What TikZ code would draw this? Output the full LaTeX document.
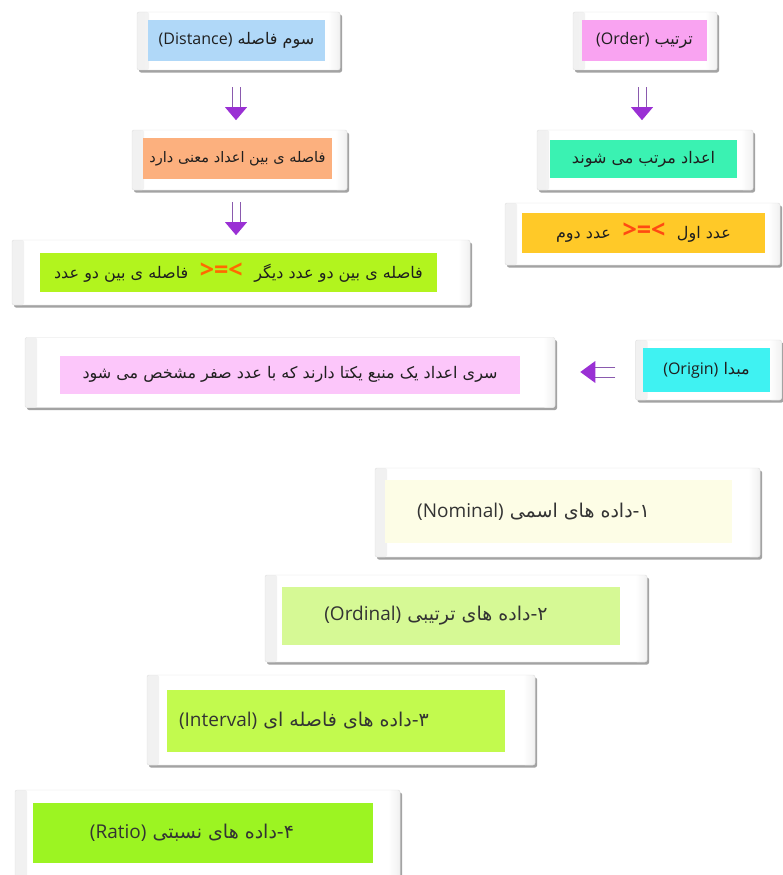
\documentclass[tikz,border=0pt]{standalone}
\usepackage{fontspec}
\TeXXeTstate=1
\newfontfamily\fa[Script=Arabic]{DejaVu Sans}
\newfontfamily\lat{Open Sans}
\usetikzlibrary{shadows}
\definecolor{cDist}{HTML}{B0D8F8}
\definecolor{cOrder}{HTML}{F9A3F1}
\definecolor{cOrange}{HTML}{FCB07E}
\definecolor{cMint}{HTML}{3AF2B2}
\definecolor{cYellow}{HTML}{FFC928}
\definecolor{cLime}{HTML}{B2F41E}
\definecolor{cPink}{HTML}{FCC6FA}
\definecolor{cCyan}{HTML}{3FF2F2}
\definecolor{cNom}{HTML}{FDFDE6}
\definecolor{cOrd}{HTML}{D6F995}
\definecolor{cInt}{HTML}{C2FA4E}
\definecolor{cRat}{HTML}{9CF422}
\definecolor{cArrow}{HTML}{9A30D4}
\definecolor{cArrLine}{HTML}{8A5AAE}
\definecolor{cRel}{HTML}{FF4A12}
\definecolor{cRelB}{HTML}{FF6A00}
\newcommand\dnarrow[1]{%
  \begin{scope}[shift={(#1)}]
    \draw[arrline] (-4,0) -- (-4,21) (4,0) -- (4,21);
    \fill[arrhead] (-11,20) -- (11,20) -- (0,33) -- cycle;
  \end{scope}}
\newcommand\rel[1]{\beginL\hbox{\lat\fontsize{25}{25}\selectfont\bfseries\color{#1}\ >=<\ }\endL}
\begin{document}
\begin{tikzpicture}[x=1pt,y=-1pt,
  card/.style={draw=gray!25, fill=white, rounded corners=2pt, inner sep=0pt,
    general shadow={fill=gray!72, shadow xshift=2pt, shadow yshift=-2.5pt},
    path picture={
      \shade[left color=gray!11, right color=white]
        (path picture bounding box.south west) rectangle ([xshift=12pt]path picture bounding box.north west);
      \shade[left color=white, right color=gray!11]
        ([xshift=-12pt]path picture bounding box.south east) rectangle (path picture bounding box.north east);}},
  box/.style={inner sep=0pt, text=black!88, font=\fa\fontsize{16}{18}\selectfont},
  bigbox/.style={inner sep=0pt},
  bigtext/.style={inner sep=0pt, text=black!80, font=\fa\fontsize{19}{21}\selectfont},
  arrline/.style={draw=cArrLine, line width=0.9pt},
  arrhead/.style={fill=cArrow}]
\useasboundingbox (0,0) rectangle (783,875);

% --- top left column
\node[card, minimum width=203pt, minimum height=58pt] (c1) at (238.5,41) {};
\node[box, fill=cDist, minimum width=177pt, minimum height=41pt] (dist) at (236.5,40.5)
  {\beginR سوم فاصله \beginL{\lat(Distance)}\endL\endR};

\node[card, minimum width=215pt, minimum height=60pt] (c2) at (239.5,160) {};
\node[box, fill=cOrange, minimum width=189pt, minimum height=41pt, font=\fa\fontsize{14.5}{16}\selectfont] (fas) at (237.5,158.5)
  {\beginR فاصله ی بین اعداد معنی دارد\endR};

\node[card, minimum width=458pt, minimum height=65pt] (c3) at (241,272.5) {};
\node[box, fill=cLime, minimum width=397pt, minimum height=39pt] (fas2) at (238.5,272.5)
  {\beginR فاصله ی بین دو عدد دیگر \rel{cRelB} فاصله ی بین دو عدد\endR};

% --- top right column
\node[card, minimum width=144pt, minimum height=58pt] (c4) at (645,41) {};
\node[box, fill=cOrder, minimum width=125pt, minimum height=41pt] (ord) at (644.5,40.5)
  {\beginR ترتیب \beginL{\lat(Order)}\endL\endR};

\node[card, minimum width=216pt, minimum height=60pt] (c5) at (645,160) {};
\node[box, fill=cMint, minimum width=187pt, minimum height=38pt] (mor) at (643.5,159)
  {\beginR اعداد مرتب می شوند\endR};

\node[card, minimum width=275pt, minimum height=62pt] (c6) at (642.5,234) {};
\node[box, fill=cYellow, minimum width=243pt, minimum height=40pt] (num) at (643.5,233)
  {\beginR عدد اول \rel{cRel} عدد دوم\endR};

% --- origin row
\node[card, minimum width=530pt, minimum height=70pt] (c7) at (290,372.5) {};
\node[box, fill=cPink, minimum width=460pt, minimum height=38pt] (ser) at (290,374.5)
  {\beginR سری اعداد یک منبع یکتا دارند که با عدد صفر مشخص می شود\endR};

\node[card, minimum width=146pt, minimum height=60pt] (c8) at (708.5,370) {};
\node[box, fill=cCyan, minimum width=127pt, minimum height=44pt] (orig) at (706.5,370)
  {\beginR مبدا \beginL{\lat(Origin)}\endL\endR};

% --- data types
\node[card, minimum width=385pt, minimum height=89pt] (c9) at (567.5,512.5) {};
\node[bigbox, fill=cNom, minimum width=347pt, minimum height=63pt] (nom) at (558.5,511.5) {};
\node[bigtext] (nomt) at ([xshift=-25pt]nom.center)
  {\beginR ۱-داده های اسمی \beginL{\lat(Nominal)}\endL\endR};

\node[card, minimum width=382pt, minimum height=87pt] (c10) at (456,618.5) {};
\node[bigbox, fill=cOrd, minimum width=338pt, minimum height=58pt] (ordi) at (451,616) {};
\node[bigtext] (ordit) at ([xshift=-15pt]ordi.center)
  {\beginR ۲-داده های ترتیبی \beginL{\lat(Ordinal)}\endL\endR};

\node[card, minimum width=388pt, minimum height=90pt] (c11) at (341,720) {};
\node[bigbox, fill=cInt, minimum width=338pt, minimum height=62pt] (intv) at (336,721) {};
\node[bigtext] (intvt) at ([xshift=-32pt]intv.center)
  {\beginR ۳-داده های فاصله ای \beginL{\lat(Interval)}\endL\endR};

\node[card, minimum width=385pt, minimum height=88pt] (c12) at (207.5,834) {};
\node[bigbox, fill=cRat, minimum width=340pt, minimum height=60pt] (rat) at (203,833) {};
\node[bigtext] (ratt) at ([xshift=-11pt]rat.center)
  {\beginR ۴-داده های نسبتی \beginL{\lat(Ratio)}\endL\endR};

% --- arrows
\path (c1.south) ++(-2.5,17) coordinate (a1);
\path (c2.south) ++(-3.5,12) coordinate (a2);
\path (c4.south) ++(-3,17) coordinate (a3);
\dnarrow{a1}
\dnarrow{a2}
\dnarrow{a3}
\path (c8.west) ++(-20,2) coordinate (a4);
\begin{scope}[shift={(a4)}]
  \draw[arrline] (0,-5) -- (-21,-5) (0,5) -- (-21,5);
  \fill[arrhead] (-20,-11) -- (-20,11) -- (-35,0) -- cycle;
\end{scope}
\end{tikzpicture}
\end{document}
